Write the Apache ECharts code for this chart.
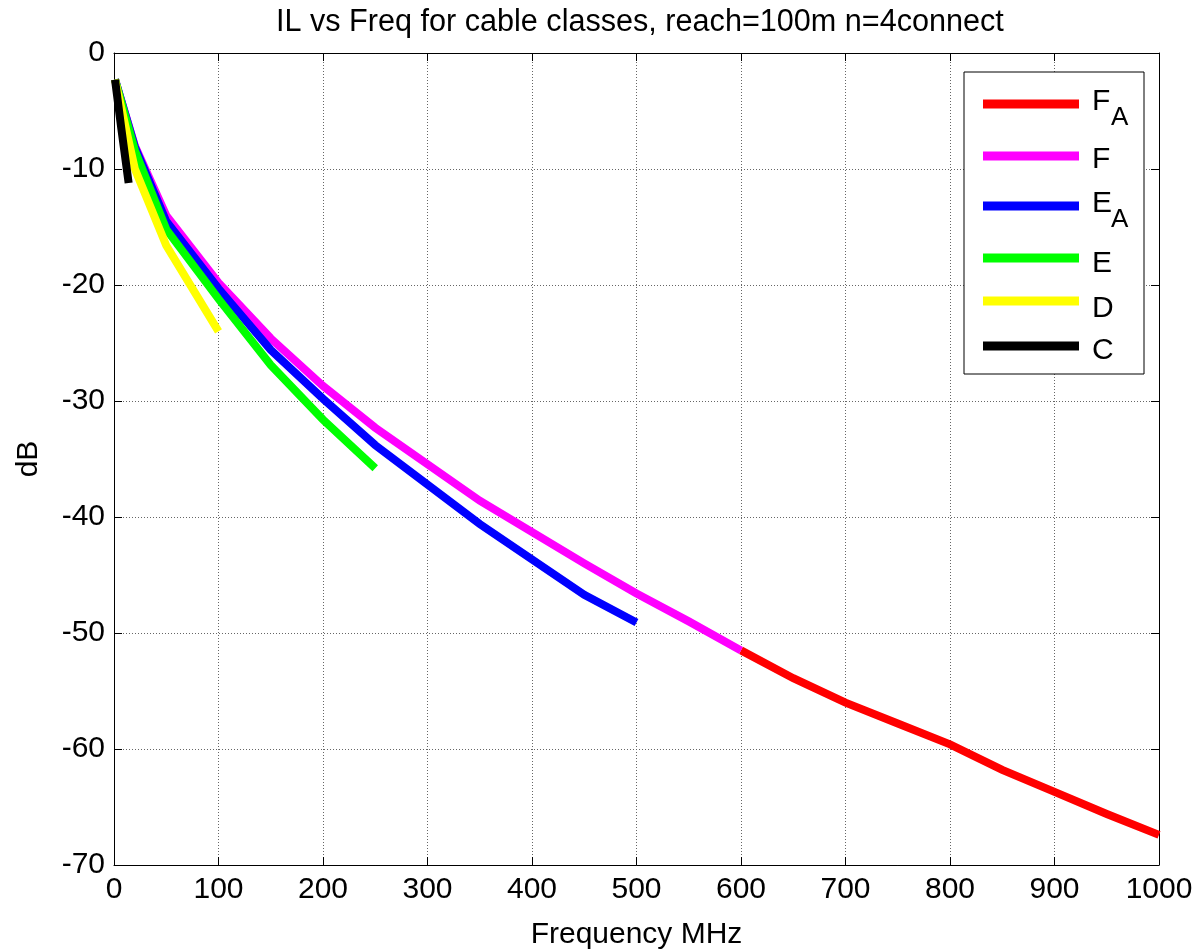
<!DOCTYPE html>
<html>
<head>
<meta charset="utf-8">
<script src="https://cdn.jsdelivr.net/npm/echarts@6/dist/echarts.min.js"></script>
<style>
html,body{margin:0;padding:0;background:#fff;}
#chart{width:1196px;height:950px;}
</style>
</head>
<body>
<div id="chart"></div>
<script>
// ---- data ----
var freqFA = [600, 650, 700, 750, 800, 850, 900, 950, 1000];
var ilFA   = [-51.5, -53.9, -56.0, -57.8, -59.6, -61.8, -63.7, -65.6, -67.4];

var freqF = [1, 20, 50, 100, 150, 200, 250, 350, 450, 500, 550, 600];
var ilF   = [-2.3, -8.0, -14.0, -19.8, -24.6, -28.7, -32.3, -38.6, -44.0, -46.6, -49.0, -51.5];

var freqEA = [1, 20, 50, 100, 150, 200, 250, 350, 450, 500];
var ilEA   = [-2.3, -8.1, -14.5, -20.3, -25.6, -29.8, -33.8, -40.6, -46.7, -49.1];

var freqE = [1, 20, 50, 100, 150, 200, 250];
var ilE   = [-2.3, -8.4, -15.2, -21.2, -26.9, -31.6, -35.8];

var freqD = [1, 20, 50, 100];
var ilD   = [-2.3, -10.0, -16.6, -24.0];

var freqC = [1, 7, 14];
var ilC   = [-2.3, -6.5, -11.2];

var seriesNames = ['FA', 'F', 'EA', 'E', 'D', 'C'];
var seriesColors = ['#ff0000', '#ff00ff', '#0000ff', '#00ff00', '#ffff00', '#000000'];
var xTicks = [0, 100, 200, 300, 400, 500, 600, 700, 800, 900, 1000];
var yTicks = [-70, -60, -50, -40, -30, -20, -10, 0];

var titleText = 'IL vs Freq for cable classes, reach=100m n=4connect';
var xName = 'Frequency MHz';
var yName = 'dB';
// legend labels: main letter + subscript
var legendMain = ['F', 'F', 'E', 'E', 'D', 'C'];
var legendSub  = ['A', '', 'A', '', '', ''];

function pairs(xs, ys) { return xs.map(function (x, i) { return [x, ys[i]]; }); }
var allData = [pairs(freqFA, ilFA), pairs(freqF, ilF), pairs(freqEA, ilEA),
               pairs(freqE, ilE), pairs(freqD, ilD), pairs(freqC, ilC)];

var FONT = 'Liberation Sans, Arial, sans-serif';
var chart = echarts.init(document.getElementById('chart'), null, {renderer: 'canvas'});

var G = {left: 114, right: 37, top: 53, bottom: 85, containLabel: false, outerBoundsMode: 'none'};

function plain(v) { return String(v); }

function baseAxisX(pos, labels) {
  return {
    type: 'value', position: pos, min: xTicks[0], max: xTicks[xTicks.length - 1], interval: 100,
    axisLine: {show: true, onZero: false, lineStyle: {color: '#000', width: 1}},
    axisTick: {show: true, inside: true, length: 8, lineStyle: {color: '#000', width: 1}},
    axisLabel: {show: labels, color: '#000', fontSize: 30, fontFamily: FONT, margin: 10, formatter: plain},
    splitLine: {show: labels, lineStyle: {color: '#666', width: 1, type: [1, 2]}}
  };
}
function baseAxisY(pos, labels) {
  return {
    type: 'value', position: pos, min: yTicks[0], max: yTicks[yTicks.length - 1], interval: 10,
    axisLine: {show: true, onZero: false, lineStyle: {color: '#000', width: 1}},
    axisTick: {show: true, inside: true, length: 8, lineStyle: {color: '#000', width: 1}},
    axisLabel: {show: labels, color: '#000', fontSize: 30, fontFamily: FONT, margin: 9, formatter: plain},
    splitLine: {show: labels, lineStyle: {color: '#666', width: 1, type: [1, 2]}}
  };
}

var xa = baseAxisX('bottom', true);
xa.name = xName; xa.nameLocation = 'middle'; xa.nameGap = 55;
xa.nameTextStyle = {color: '#000', fontSize: 30, fontFamily: FONT};
var ya = baseAxisY('left', true);
ya.name = yName; ya.nameLocation = 'middle'; ya.nameGap = 70;
ya.nameTextStyle = {color: '#000', fontSize: 30, fontFamily: FONT};

// legend drawn with graphic elements
var legBox = {x: 964, y: 72, w: 180, h: 302};
var legLineY = [104, 156, 206, 258, 301, 346];
var legTextY = [101, 159, 203, 263, 308, 350];
var graphics = [{
  type: 'rect', shape: {x: legBox.x, y: legBox.y, width: legBox.w, height: legBox.h},
  style: {fill: '#fff', stroke: '#000', lineWidth: 1}, z: 100
}];
for (var i = 0; i < seriesNames.length; i++) {
  graphics.push({
    type: 'line', shape: {x1: 983, y1: legLineY[i], x2: 1079, y2: legLineY[i]},
    style: {stroke: seriesColors[i], lineWidth: 9}, z: 101
  });
  graphics.push({
    type: 'text', x: 1092, y: legTextY[i] + 1,
    style: {text: legendMain[i], fill: '#000', font: '30px ' + FONT, textVerticalAlign: 'middle', verticalAlign: 'middle'}, z: 101
  });
  if (legendSub[i]) {
    graphics.push({
      type: 'text', x: 1111, y: legTextY[i] + 17,
      style: {text: legendSub[i], fill: '#000', font: '26px ' + FONT, textVerticalAlign: 'middle', verticalAlign: 'middle'}, z: 101
    });
  }
}

var option = {
  backgroundColor: '#fff',
  animation: false,
  title: {
    text: titleText, left: 276, top: 7, padding: 0,
    textStyle: {color: '#000', fontSize: 30.6, fontWeight: 'normal', fontFamily: FONT}
  },
  grid: G,
  xAxis: [xa, baseAxisX('top', false)],
  yAxis: [ya, baseAxisY('right', false)],
  series: allData.map(function (d, i) {
    return {
      name: seriesNames[i], type: 'line', data: d, xAxisIndex: 0, yAxisIndex: 0,
      symbol: 'none', showSymbol: false,
      lineStyle: {color: seriesColors[i], width: 8, cap: 'butt', join: 'miter'},
      itemStyle: {color: seriesColors[i]}, z: 10 + i
    };
  }),
  graphic: graphics
};
chart.setOption(option);
</script>
</body>
</html>
